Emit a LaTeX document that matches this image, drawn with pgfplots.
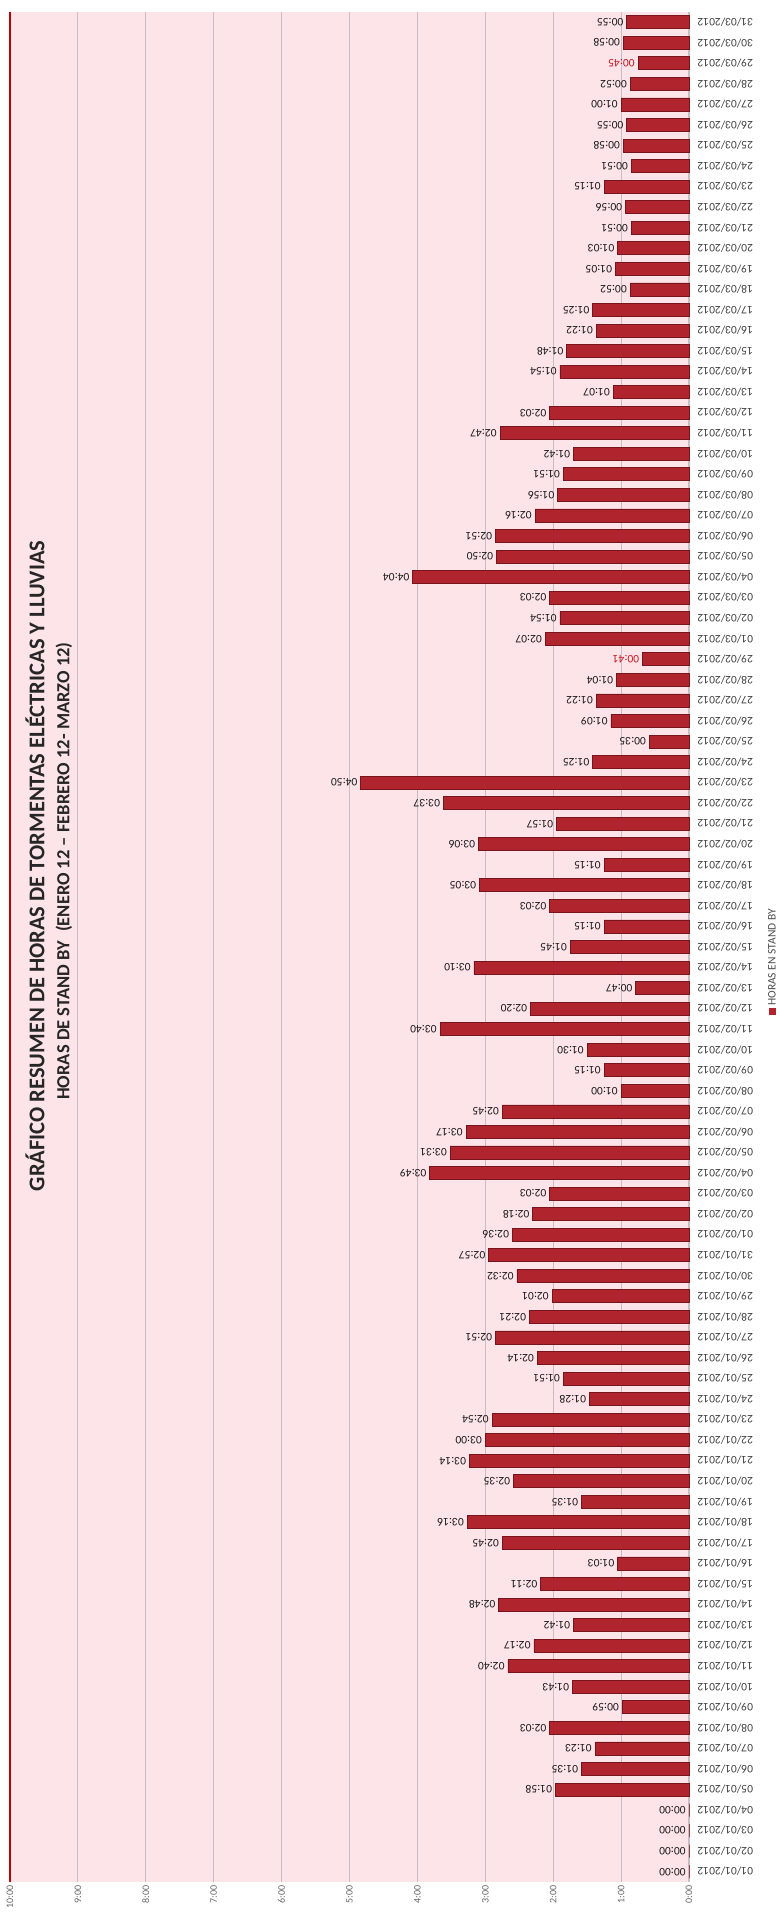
\documentclass[border=0pt]{standalone}
\usepackage{pgfplots}
\pgfplotsset{compat=1.18}
\usepackage{pgfplotstable}
\usepackage{fontspec}
\setmainfont{Carlito}

\definecolor{barred}{RGB}{176,36,46}
\definecolor{baredge}{RGB}{120,20,28}
\definecolor{bgpink}{RGB}{252,228,233}
\definecolor{gridgray}{RGB}{200,190,194}
\definecolor{labred}{RGB}{200,20,30}

% d: day index, h/m: hours and minutes in stand-by, r: label in red
\pgfplotstableread{
d  h m  r date
0  0 0  0 01/01/2012
1  0 0  0 02/01/2012
2  0 0  0 03/01/2012
3  0 0  0 04/01/2012
4  1 58 0 05/01/2012
5  1 35 0 06/01/2012
6  1 23 0 07/01/2012
7  2 3  0 08/01/2012
8  0 59 0 09/01/2012
9  1 43 0 10/01/2012
10 2 40 0 11/01/2012
11 2 17 0 12/01/2012
12 1 42 0 13/01/2012
13 2 48 0 14/01/2012
14 2 11 0 15/01/2012
15 1 3  0 16/01/2012
16 2 45 0 17/01/2012
17 3 16 0 18/01/2012
18 1 35 0 19/01/2012
19 2 35 0 20/01/2012
20 3 14 0 21/01/2012
21 3 0  0 22/01/2012
22 2 54 0 23/01/2012
23 1 28 0 24/01/2012
24 1 51 0 25/01/2012
25 2 14 0 26/01/2012
26 2 51 0 27/01/2012
27 2 21 0 28/01/2012
28 2 1  0 29/01/2012
29 2 32 0 30/01/2012
30 2 57 0 31/01/2012
31 2 36 0 01/02/2012
32 2 18 0 02/02/2012
33 2 3  0 03/02/2012
34 3 49 0 04/02/2012
35 3 31 0 05/02/2012
36 3 17 0 06/02/2012
37 2 45 0 07/02/2012
38 1 0  0 08/02/2012
39 1 15 0 09/02/2012
40 1 30 0 10/02/2012
41 3 40 0 11/02/2012
42 2 20 0 12/02/2012
43 0 47 0 13/02/2012
44 3 10 0 14/02/2012
45 1 45 0 15/02/2012
46 1 15 0 16/02/2012
47 2 3  0 17/02/2012
48 3 5  0 18/02/2012
49 1 15 0 19/02/2012
50 3 6  0 20/02/2012
51 1 57 0 21/02/2012
52 3 37 0 22/02/2012
53 4 50 0 23/02/2012
54 1 25 0 24/02/2012
55 0 35 0 25/02/2012
56 1 9  0 26/02/2012
57 1 22 0 27/02/2012
58 1 4  0 28/02/2012
59 0 41 1 29/02/2012
60 2 7  0 01/03/2012
61 1 54 0 02/03/2012
62 2 3  0 03/03/2012
63 4 4  0 04/03/2012
64 2 50 0 05/03/2012
65 2 51 0 06/03/2012
66 2 16 0 07/03/2012
67 1 56 0 08/03/2012
68 1 51 0 09/03/2012
69 1 42 0 10/03/2012
70 2 47 0 11/03/2012
71 2 3  0 12/03/2012
72 1 7  0 13/03/2012
73 1 54 0 14/03/2012
74 1 48 0 15/03/2012
75 1 22 0 16/03/2012
76 1 25 0 17/03/2012
77 0 52 0 18/03/2012
78 1 5  0 19/03/2012
79 1 3  0 20/03/2012
80 0 51 0 21/03/2012
81 0 56 0 22/03/2012
82 1 15 0 23/03/2012
83 0 51 0 24/03/2012
84 0 58 0 25/03/2012
85 0 55 0 26/03/2012
86 1 0  0 27/03/2012
87 0 52 0 28/03/2012
88 0 45 1 29/03/2012
89 0 58 0 30/03/2012
90 0 55 0 31/03/2012
}\standby

% label of a bar: meta holds minutes (+1000 when the label is red)
\newcount\vT \newcount\vH \newcount\vM
\newcommand\hhmm{%
  \begingroup
  \pgfkeys{/pgf/fpu=true}%
  \pgfmathparse{round(\pgfplotspointmeta)}\pgfmathfloattoint{\pgfmathresult}%
  \global\vT=\pgfmathresult\relax
  \pgfkeys{/pgf/fpu=false}%
  \ifnum\vT>999 \color{labred}\advance\vT by -1000 \fi
  \vH=\numexpr(\vT+30)/60-1\relax
  \vM=\numexpr\vT-60*\vH\relax
  0\the\vH:\ifnum\vM<10 0\fi\the\vM
  \endgroup}

\begin{document}
\begin{tikzpicture}[x=1pt,y=1pt]
\useasboundingbox (0,0) rectangle (779,1921);
\begin{axis}[
  at={(10pt,39pt)}, anchor=south west,
  scale only axis, width=679pt, height=1870pt,
  xbar, bar width=13pt,
  x dir=reverse,
  xmin=0, xmax=10, ymin=-0.5, ymax=90.5,
  axis background/.style={fill=bgpink},
  axis line style={draw=none},
  major tick length=0pt,
  xtick={0,...,9},
  xticklabels={0:00,1:00,2:00,3:00,4:00,5:00,6:00,7:00,8:00,9:00},
  extra x ticks={10},
  extra x tick labels={10:00},
  extra x tick style={grid style={draw=red!75!black, line width=2pt}},
  xmajorgrids,
  grid style={draw=gridgray, line width=1.2pt},
  xticklabel style={rotate=90, anchor=east, font=\fontsize{10}{12}\selectfont, text=black!60},
  ytick={0,...,90},
  yticklabel pos=right,
  yticklabel shift=5pt,
  yticklabels from table={\standby}{date},
  yticklabel style={rotate=180, anchor=east, font=\fontsize{11.5}{13}\selectfont, text=black!75},
  point meta={\thisrow{h}*60+\thisrow{m}+1000*\thisrow{r}},
  nodes near coords={\hhmm},
  nodes near coords style={rotate=180, anchor=west, inner sep=3pt,
    font=\fontsize{11.5}{13}\selectfont, text=black!90},
  clip=false,
]
\addplot[fill=barred, draw=baredge, line width=0.8pt]
  table[x expr=\thisrow{h}+\thisrow{m}/60, y=d] {\standby};
\end{axis}

% titles, written sideways along the left edge
\node[rotate=90, font=\bfseries\fontsize{22.5}{26}\selectfont, text=black!85]
  at (35,1055) {GRÁFICO RESUMEN DE HORAS DE TORMENTAS ELÉCTRICAS Y LLUVIAS};
\node[rotate=90, font=\bfseries\fontsize{18.5}{22}\selectfont, text=black!85]
  at (64,1050) {HORAS DE STAND BY\enspace (ENERO 12 – FEBRERO 12- MARZO 12)};
% legend
\node[rotate=90, font=\fontsize{11.5}{13}\selectfont, text=black!70]
  at (772,959) {\textcolor{barred}{\rule{7pt}{7pt}}\,HORAS EN STAND BY};
\end{tikzpicture}
\end{document}
